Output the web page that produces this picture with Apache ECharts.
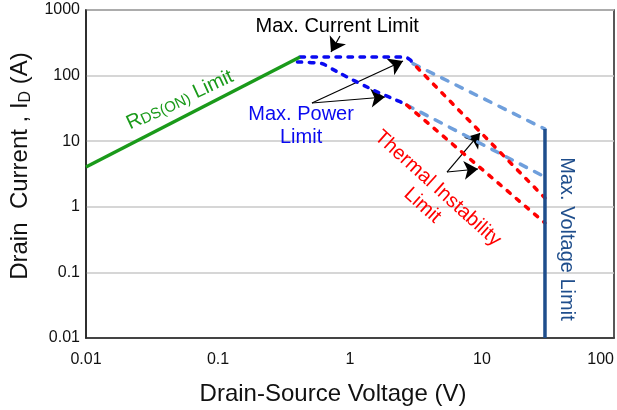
<!DOCTYPE html>
<html>
<head>
<meta charset="utf-8">
<script src="https://cdn.jsdelivr.net/npm/echarts@6/dist/echarts.min.js"></script>
<style>
  html, body { margin: 0; padding: 0; background: #fff; }
  #chart { width: 617px; height: 410px; }
</style>
</head>
<body>
<div id="chart"></div>
<script>
// tick labels
var xTickLabels = ['0.01', '0.1', '1', '10', '100'];
var yTickLabels = ['0.01', '0.1', '1', '10', '100', '1000'];

// limit curves, [V, A]
var rdsOnLimit = [[0.01, 4.05], [0.418, 192]];
var maxCurrentLimit = [[0.418, 192], [2.4, 192], [2.7, 188], [2.88, 172], [3.0, 152]];
var maxCurrentPower = [[3.0, 152], [30, 15.3]];
var maxPowerLimit = [[0.40, 161], [0.593, 154], [0.704, 131], [0.944, 96], [1.25, 72], [1.69, 54], [2.39, 40], [2.69, 35.6]];
var maxPowerTail = [[2.69, 35.6], [30, 2.85]];
var thermalUpper = [[3.2, 135], [30, 1.36]];
var thermalLower = [[2.69, 35.6], [30, 0.567]];
var maxVoltageLimit = [[30, 15.3], [30, 0.01]];

// annotation arrows, [from, to]
var arrows = [
  [[0.84, 402], [0.718, 229]],
  [[0.515, 38.2], [2.52, 167]],
  [[0.515, 38.2], [1.84, 47.2]],
  [[5.43, 3.39], [9.66, 13.3]],
  [[5.43, 3.39], [9.33, 3.77]]
];

// annotation text anchors
var noteCurrent = [0.80, 551];
var noteRds = [0.0515, 42.5];
var notePower = [0.426, 17.1];
var noteThermal = [4.04, 1.41];
var noteVoltage = [44, 0.323];

var FONT = 'Liberation Sans, Arial, sans-serif';

var chart = echarts.init(document.getElementById('chart'));

function dashed(data, color, dash, w) {
  return {
    type: 'line', data: data, symbol: 'none', silent: true,
    lineStyle: { color: color, width: w || 3.5, type: dash, cap: dash === 'solid' ? 'butt' : 'round' }
  };
}

function note(pos, text, color, rotate, rich) {
  return {
    value: pos,
    label: {
      show: true, position: 'inside', formatter: text, color: color,
      fontSize: 20, fontFamily: FONT, rotate: rotate || 0,
      align: 'center', verticalAlign: 'middle', lineHeight: 23, rich: rich || {}
    }
  };
}

var option = {
  animation: false,
  backgroundColor: '#fff',
  grid: {
    left: 86, right: 3, top: 10, bottom: 72, show: true,
    borderColor: '#222', borderWidth: 1.5, outerBoundsMode: 'none', containLabel: false
  },
  xAxis: {
    type: 'log', logBase: 10, min: 0.01, max: 100,
    axisLine: { show: true, lineStyle: { color: '#222', width: 1.5 } },
    axisTick: { show: false },
    splitLine: { show: false },
    axisLabel: {
      fontSize: 16, fontFamily: FONT, color: '#111', margin: 14, alignMaxLabel: 'right',
      formatter: function (v) { return xTickLabels[Math.round(Math.log10(v)) + 2] || ''; }
    },
    name: 'Drain-Source Voltage (V)', nameLocation: 'middle', nameGap: 44,
    nameTextStyle: { fontSize: 24, fontFamily: FONT, color: '#111', padding: [0, 34, 0, 0] }
  },
  yAxis: {
    type: 'log', logBase: 10, min: 0.01, max: 1000,
    axisLine: { show: true, lineStyle: { color: '#222', width: 1.5 } },
    axisTick: { show: false },
    splitLine: { show: true, lineStyle: { color: '#c8c8c8', width: 1.5 } },
    axisLabel: {
      fontSize: 16, fontFamily: FONT, color: '#111', margin: 6,
      formatter: function (v) { return yTickLabels[Math.round(Math.log10(v)) + 2] || ''; }
    },
    name: 'Drain  Current , I{s|D} (A)', nameLocation: 'middle', nameGap: 50,
    nameTextStyle: {
      fontSize: 24, fontFamily: FONT, color: '#111', padding: [0, 0, 0, 16],
      rich: { s: { fontSize: 16, fontFamily: FONT, color: '#111', padding: [10, 0, 0, 0] } }
    }
  },
  series: [
    dashed(maxPowerTail, '#6f9fdc', [7, 9]),
    dashed(maxCurrentPower, '#6f9fdc', [7, 9]),
    dashed(thermalUpper, '#ff0000', [4, 8]),
    dashed(thermalLower, '#ff0000', [4, 8]),
    dashed(maxCurrentLimit, '#0a0af0', [4.5, 7.5]),
    Object.assign(dashed(maxPowerLimit, '#0a0af0', [4.5, 7.5]), { smooth: true }),
    dashed(rdsOnLimit, '#1a9a1a', 'solid'),
    dashed(maxVoltageLimit, '#1f4e8c', 'solid'),
    {
      type: 'lines', coordinateSystem: 'cartesian2d', silent: true,
      symbol: ['none', 'arrow'], symbolSize: 14,
      lineStyle: { color: '#000', width: 1.2, opacity: 1 },
      data: arrows.map(function (a) { return { coords: a }; })
    },
    {
      type: 'scatter', symbolSize: 1, silent: true,
      itemStyle: { color: 'rgba(0,0,0,0)', opacity: 1 },
      data: [
        note(noteCurrent, 'Max. Current Limit', '#000', 0),
        note(noteRds, '{a|R}{b|DS(ON)}{a| Limit}', '#1a9a1a', 25, {
          a: { fontSize: 20, fontFamily: FONT, color: '#1a9a1a' },
          b: { fontSize: 15, fontFamily: FONT, color: '#1a9a1a', padding: [5, 0, 0, 0] }
        }),
        note(notePower, 'Max. Power\nLimit', '#0a0af0', 0),
        note(noteThermal, 'Thermal Instability\nLimit', '#ff0000', -42),
        note(noteVoltage, 'Max. Voltage Limit', '#1f4e8c', -90)
      ]
    }
  ]
};

chart.setOption(option);
</script>
</body>
</html>
